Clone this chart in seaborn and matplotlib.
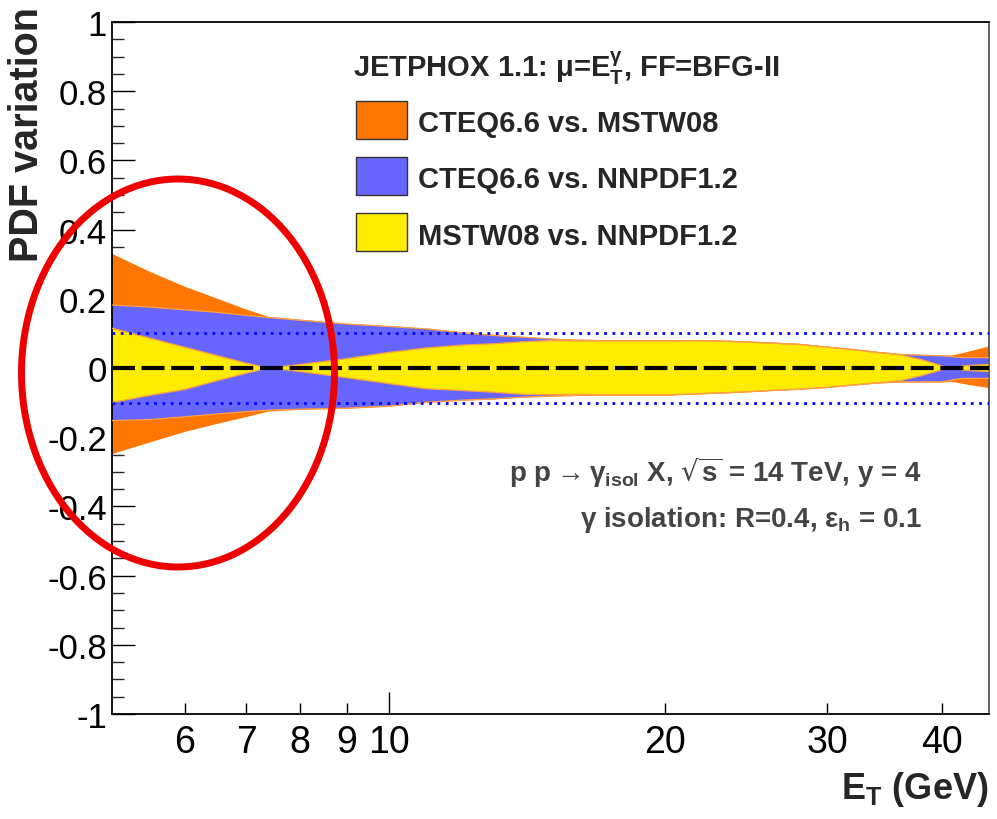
import numpy as np
import pandas as pd
import matplotlib
matplotlib.use("Agg")
import matplotlib.pyplot as plt
import seaborn as sns
from matplotlib.patches import Rectangle, Ellipse
from matplotlib.ticker import FixedLocator, FixedFormatter, MultipleLocator, FuncFormatter

# ---------------- data ----------------
et = [5, 5.5, 6, 6.5, 7, 7.4, 8, 9, 10, 11, 12, 13, 14, 15, 16, 17, 18, 20,
      22, 24, 26, 28, 30, 32, 34, 36, 38, 40, 41, 42, 43, 45]

cteq_mstw_hi = [0.330, 0.278, 0.235, 0.201, 0.169, 0.148, 0.140, 0.128, 0.121, 0.114,
                0.104, 0.096, 0.090, 0.085, 0.082, 0.081, 0.081, 0.081, 0.081, 0.078,
                0.074, 0.070, 0.062, 0.055, 0.047, 0.041, 0.038, 0.036, 0.036, 0.042,
                0.049, 0.062]
cteq_mstw_lo = [-0.249, -0.215, -0.185, -0.162, -0.142, -0.126, -0.121, -0.118, -0.112,
                -0.101, -0.095, -0.091, -0.086, -0.083, -0.081, -0.080, -0.080, -0.080,
                -0.076, -0.072, -0.067, -0.063, -0.058, -0.051, -0.045, -0.042, -0.042,
                -0.042, -0.040, -0.045, -0.050, -0.058]

cteq_nnpdf_hi = [0.182, 0.176, 0.168, 0.161, 0.152, 0.146, 0.138, 0.127, 0.120, 0.113,
                 0.102, 0.094, 0.089, 0.084, 0.080, 0.079, 0.079, 0.079, 0.079, 0.076,
                 0.072, 0.068, 0.060, 0.053, 0.045, 0.039, 0.037, 0.035, 0.033, 0.030,
                 0.030, 0.030]
cteq_nnpdf_lo = [-0.152, -0.149, -0.141, -0.133, -0.126, -0.122, -0.119, -0.116, -0.110,
                 -0.099, -0.093, -0.089, -0.084, -0.081, -0.079, -0.078, -0.078, -0.078,
                 -0.074, -0.070, -0.065, -0.061, -0.056, -0.049, -0.043, -0.040, -0.040,
                 -0.040, -0.035, -0.030, -0.030, -0.030]

mstw_nnpdf_hi = [0.115, 0.086, 0.060, 0.036, 0.014, 0.000, 0.010, 0.027, 0.045, 0.058,
                 0.066, 0.070, 0.076, 0.079, 0.078, 0.078, 0.078, 0.078, 0.079, 0.076,
                 0.072, 0.068, 0.060, 0.053, 0.045, 0.038, 0.024, 0.006, 0.000, 0.005,
                 0.008, 0.010]
mstw_nnpdf_lo = [-0.100, -0.079, -0.062, -0.037, -0.015, 0.000, -0.010, -0.028, -0.045,
                 -0.060, -0.065, -0.070, -0.076, -0.077, -0.076, -0.077, -0.078, -0.078,
                 -0.074, -0.070, -0.065, -0.061, -0.056, -0.049, -0.043, -0.037, -0.022,
                 -0.005, 0.000, -0.005, -0.008, -0.010]

band_names = ["CTEQ6.6 vs. MSTW08", "CTEQ6.6 vs. NNPDF1.2", "MSTW08 vs. NNPDF1.2"]
x_major = [10]
x_minor = [6, 7, 8, 9, 20, 30, 40]
ref_levels = [-0.1, 0.1]

# ---------------- style ----------------
sns.set_theme(style="ticks")
plt.rcParams["font.family"] = ["Liberation Sans", "DejaVu Sans"]
plt.rcParams["mathtext.default"] = "regular"
plt.rcParams["axes.unicode_minus"] = False

ORANGE = "#ff7700"
BLUE = "#6666ff"
YELLOW = "#ffec00"
EDGE = "#ffa040"
GRAYTXT = "#444444"

W, H = 997, 820
fig = plt.figure(figsize=(W / 100, H / 100), dpi=100)
L, R, T, B = 112, 989, 23, 715
ax = fig.add_axes([L / W, (H - B) / H, (R - L) / W, (B - T) / H])
ax.set_facecolor("white")

bands = [
    (cteq_mstw_lo, cteq_mstw_hi, ORANGE, ORANGE),
    (cteq_nnpdf_lo, cteq_nnpdf_hi, BLUE, EDGE),
    (mstw_nnpdf_lo, mstw_nnpdf_hi, YELLOW, EDGE),
]
rows = []
for name, (lo, hi, fc, ec) in zip(band_names, bands):
    ax.fill_between(et, lo, hi, facecolor=fc, edgecolor="none", lw=0, zorder=2)
    for side, vals in (("lo", lo), ("hi", hi)):
        for e, v in zip(et, vals):
            rows.append({"E": e, "v": v, "curve": name + side, "band": name})
df = pd.DataFrame(rows)
# thin outlines of the blue and yellow bands
for name in band_names[1:]:
    sub = df[df["band"] == name]
    sns.lineplot(data=sub, x="E", y="v", units="curve", estimator=None,
                 color=EDGE, lw=0.9, ax=ax, zorder=3, legend=False)

for lvl in ref_levels:
    ax.axhline(lvl, color="#0000ff", lw=2.0, dashes=(1.0, 2.0), zorder=4)
ax.axhline(0, color="black", lw=3.0, dashes=(5.5, 1.6), zorder=5)

# ---------------- axes ----------------
ax.set_xscale("log")
ax.set_xlim(5, 45)
ax.set_ylim(-1, 1)
ax.xaxis.set_major_locator(FixedLocator(x_major))
ax.xaxis.set_major_formatter(FixedFormatter([str(v) for v in x_major]))
ax.xaxis.set_minor_locator(FixedLocator(x_minor))
ax.xaxis.set_minor_formatter(FixedFormatter([str(v) for v in x_minor]))
ax.yaxis.set_major_locator(MultipleLocator(0.2))
ax.yaxis.set_minor_locator(MultipleLocator(0.05))
ax.yaxis.set_major_formatter(FuncFormatter(lambda v, p: "%g" % (round(v, 2) + 0.0)))

ax.tick_params(axis="x", which="major", direction="in", length=16, width=1.0,
               pad=7, labelsize=27, colors="black")
ax.tick_params(axis="x", which="minor", direction="in", length=8, width=1.0,
               pad=7, labelsize=27, colors="black")
ax.tick_params(axis="y", which="major", direction="in", length=16.5, width=1.0,
               pad=3.5, labelsize=25, colors="black")
ax.tick_params(axis="y", which="minor", direction="in", length=8.5, width=1.0)
for sp in ax.spines.values():
    sp.set_linewidth(1.3)
    sp.set_color("black")
ax.spines["right"].set_color("#555555")

ax.set_xlabel("E$_T$ (GeV)", fontsize=26, fontweight="bold", loc="right")
ax.xaxis.set_label_coords(0.999, -0.080)
ax.set_ylabel("PDF variation", fontsize=28.5, fontweight="bold", loc="top")
ax.yaxis.set_label_coords(-0.0750, 1.023)

# ---------------- legend (drawn like the ROOT TLegend) ----------------
def axc(px, py):
    return (px - L) / (R - L), (B - py) / (B - T)

ax.text(*axc(353, 77), "JETPHOX 1.1: μ=E$_T^γ$, FF=BFG-II", transform=ax.transAxes,
        fontsize=21, fontweight="bold", ha="left", va="baseline", zorder=6)
box_tops = [102, 158, 214]
text_base = [132, 188, 245]
for name, (lo, hi, fc, ec), bt, tb in zip(band_names, bands, box_tops, text_base):
    x0, y1 = axc(356, bt)
    x1, y0 = axc(407, bt + 38)
    ax.add_patch(Rectangle((x0, y0), x1 - x0, y1 - y0, transform=ax.transAxes,
                           facecolor=fc, edgecolor="#333333", lw=1.0, zorder=6))
    ax.text(*axc(418, tb), name, transform=ax.transAxes, fontsize=21,
            fontweight="bold", ha="left", va="baseline", zorder=6)

ax.text(*axc(922, 482), r"p p$\rightarrow$γ$_{isol}$ X, $\sqrt{s}$ = 14 TeV, y = 4",
        transform=ax.transAxes, fontsize=20, fontweight="bold", color=GRAYTXT,
        ha="right", va="baseline", zorder=6)
ax.text(*axc(922, 527), "γ isolation: R=0.4, ε$_h$ = 0.1",
        transform=ax.transAxes, fontsize=20, fontweight="bold", color=GRAYTXT,
        ha="right", va="baseline", zorder=6)

# red hand-drawn style highlight ellipse
fig.add_artist(Ellipse((178 / W, 1 - 374 / H), 313 / W, 388 / H,
                       transform=fig.transFigure, fill=False,
                       edgecolor="#ee0000", lw=5.0, zorder=10))

fig.savefig("out.png", dpi=100, facecolor="white")
